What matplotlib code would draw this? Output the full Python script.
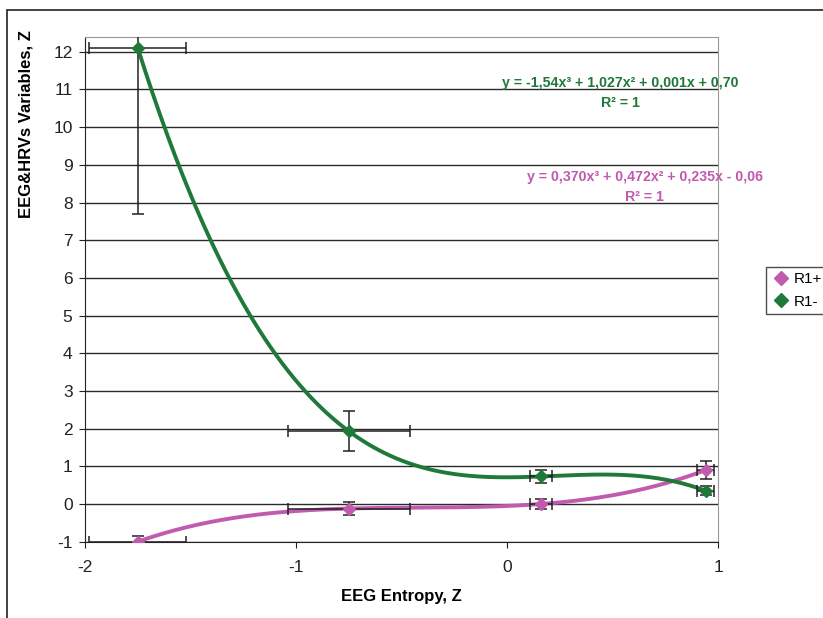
import numpy as np
import matplotlib
matplotlib.use('Agg')
import matplotlib.pyplot as plt
from matplotlib.patches import Rectangle
from matplotlib.lines import Line2D

GREEN = '#1f7a3a'
MAGENTA = '#c25aae'

# data
x_vals = [-1.75, -0.75, 0.16, 0.94]
x_err = [0.23, 0.29, 0.05, 0.04]

r1_plus = [-1.0, -0.12, 0.0, 0.90]
r1_plus_err = [0.15, 0.185, 0.12, 0.25]

r1_minus = [12.1, 1.93, 0.73, 0.35]
r1_minus_err = [4.41, 0.53, 0.16, 0.12]

eq_minus = 'y = -1,54x³ + 1,027x² + 0,001x + 0,70'
eq_plus = 'y = 0,370x³ + 0,472x² + 0,235x - 0,06'

plt.rcParams.update({'font.family': ['Liberation Sans', 'DejaVu Sans'],
                     'font.size': 12,
                     'axes.unicode_minus': False})

fig = plt.figure(figsize=(8.23, 6.18), dpi=100)
ax = fig.add_axes([0.1033, 0.1235, 0.7695, 0.8171])

xx = np.linspace(min(x_vals), max(x_vals), 300)
for yv, ye, col in [(r1_plus, r1_plus_err, MAGENTA), (r1_minus, r1_minus_err, GREEN)]:
    coef = np.polyfit(x_vals, yv, 3)  # cubic trendline, R^2 = 1
    ax.plot(xx, np.polyval(coef, xx), color=col, lw=2.8, zorder=3)
    ax.errorbar(x_vals, yv, xerr=x_err, yerr=ye, fmt='D', color=col,
                ms=6.5, ecolor='#222222', elinewidth=1.1, capsize=4,
                capthick=1.1, zorder=4)

ax.set_xlim(-2, 1)
ax.set_ylim(-1, 12.4)
ax.set_xticks([-2, -1, 0, 1])
ax.set_yticks(range(-1, 13))
ax.grid(axis='y', color='#2a2a2a', lw=1)
ax.set_axisbelow(True)
for s in ['top', 'right']:
    ax.spines[s].set_color('#999999')
for s in ['left', 'bottom']:
    ax.spines[s].set_color('#222222')
ax.tick_params(direction='out', length=4, colors='#222222', labelsize=12.5, pad=5)
ax.tick_params(axis='x', pad=9)

ax.set_xlabel('EEG Entropy, Z', fontweight='bold', fontsize=12, labelpad=10)
fig.text(26 / 823, 1 - 124 / 618, 'EEG&HRVs Variables, Z', fontweight='bold',
         fontsize=12, rotation=90, ha='center', va='center')

ax.text(0.535, 11.17, eq_minus, color=GREEN, fontweight='bold', fontsize=10.2,
        ha='center', va='center', clip_on=False)
ax.text(0.535, 10.65, 'R² = 1', color=GREEN, fontweight='bold', fontsize=10.2,
        ha='center', va='center', clip_on=False)
ax.text(0.654, 8.67, eq_plus, color=MAGENTA, fontweight='bold', fontsize=10.2,
        ha='center', va='center', clip_on=False)
ax.text(0.65, 8.15, 'R² = 1', color=MAGENTA, fontweight='bold', fontsize=10.2,
        ha='center', va='center', clip_on=False)

handles = [Line2D([], [], ls='none', marker='D', ms=7, color=MAGENTA),
           Line2D([], [], ls='none', marker='D', ms=7, color=GREEN)]
leg = fig.legend(handles, ['R1+', 'R1-'], loc='upper left',
                 bbox_to_anchor=(766 / 823, 1 - 267 / 618), fontsize=11,
                 frameon=True, fancybox=False, borderpad=0.35, borderaxespad=0,
                 handletextpad=0.25, labelspacing=0.55, handlelength=1.2)
leg.get_frame().set_edgecolor('#222222')
leg.get_frame().set_linewidth(1)

# outer chart-area frame (cropped on right and bottom)
fig.patches.append(Rectangle((7 / 823, -0.1), 2, 1 - 10 / 618 + 0.1,
                             transform=fig.transFigure, fill=False,
                             ec='#222222', lw=1.2))

fig.savefig('out.png', dpi=100)
